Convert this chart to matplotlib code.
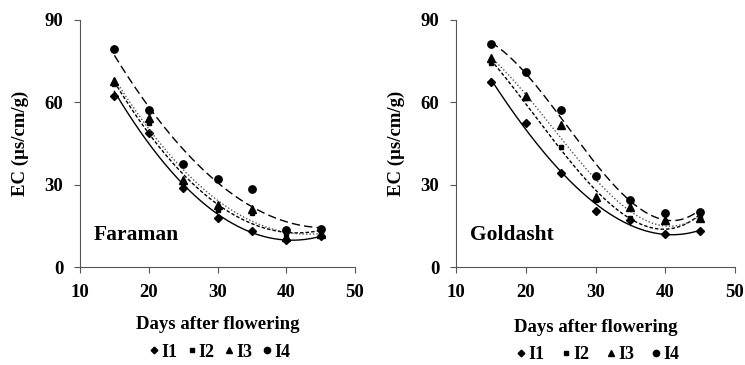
import numpy as np
import matplotlib
matplotlib.use("Agg")
import matplotlib.pyplot as plt
from matplotlib.lines import Line2D

plt.rcParams['font.family'] = ['Liberation Serif', 'DejaVu Serif']
plt.rcParams['font.weight'] = 'bold'

days = [15, 20, 25, 30, 35, 40, 45]
series = ["I1", "I2", "I3", "I4"]

faraman_I1 = [62.2, 49.0, 28.7, 17.7, 13.2, 10.0, 11.2]
faraman_I2 = [66.5, 52.4, 30.5, 20.7, 19.5, 12.2, 12.8]
faraman_I3 = [67.7, 54.3, 31.7, 22.6, 21.0, 11.0, 12.2]
faraman_I4 = [79.3, 57.3, 37.6, 32.0, 28.5, 13.4, 13.9]

goldasht_I1 = [67.5, 52.5, 34.2, 20.5, 17.1, 12.2, 13.0]
goldasht_I2 = [74.4, 61.5, 43.9, 24.4, 17.7, 16.5, 18.0]
goldasht_I3 = [76.0, 62.4, 51.8, 25.6, 21.7, 17.1, 17.7]
goldasht_I4 = [81.3, 71.0, 57.3, 33.3, 24.4, 19.5, 19.9]

markers = ['D', 's', '^', 'o']
msizes = [4.0, 3.2, 5.5, 5.3]
lstyles = ['-', (0, (2.5, 1.5)), (0, (1, 1.5)), (0, (6, 3))]
lcolors = ['#000000', '#000000', '#555555', '#000000']

fig = plt.figure(figsize=(7.45, 3.65), dpi=100)
ax1 = fig.add_axes([80/745, 98/365, 275/745, 247/365])
ax2 = fig.add_axes([456/745, 98/365, 279/745, 247/365])

def draw(ax, data, deg, name, legend_y, xlab_y, colsp):
    xs = np.linspace(15, 45, 200)
    for vals, m, ms, ls, lc in zip(data, markers, msizes, lstyles, lcolors):
        coef = np.polyfit(days, vals, deg)
        ax.plot(xs, np.polyval(coef, xs), linestyle=ls, color=lc, lw=1.0)
        ax.plot(days, vals, linestyle='none', marker=m, markersize=ms, color='black')
    ax.set_xlim(10, 50)
    ax.set_ylim(0, 90)
    ax.set_xticks([10, 20, 30, 40, 50])
    ax.set_yticks([0, 30, 60, 90])
    ax.spines['top'].set_visible(False)
    ax.spines['right'].set_visible(False)
    for s in ['left', 'bottom']:
        ax.spines[s].set_color('#555555')
    ax.tick_params(axis='y', direction='out', length=4, color='#555555', labelsize=13.5, pad=8)
    ax.tick_params(axis='x', direction='out', length=4, color='#555555', labelsize=13.5, pad=8)
    for t in ax.get_xticklabels() + ax.get_yticklabels():
        t.set_fontweight('bold')
    ax.set_ylabel('EC (µs/cm/g)', fontsize=13.5, fontweight='bold', labelpad=11)
    ax.set_xlabel('Days after flowering', fontsize=13.5, fontweight='bold')
    ax.xaxis.set_label_coords(0.5, xlab_y)
    ax.text(0.05, 0.11, name, transform=ax.transAxes, fontsize=15.5, fontweight='bold')
    handles = [Line2D([], [], linestyle='none', marker=m, markersize=ms*0.85, color='black')
               for m, ms in zip(markers, msizes)]
    ax.legend(handles, series, loc='center', bbox_to_anchor=(0.5, legend_y), ncol=4,
              frameon=False, handletextpad=-0.1, columnspacing=colsp, handlelength=1.0,
              borderpad=0, prop={'size': 13, 'weight': 'bold'})

draw(ax1, [faraman_I1, faraman_I2, faraman_I3, faraman_I4], 2, 'Faraman', -0.345, -0.2, 0.3)
draw(ax2, [goldasht_I1, goldasht_I2, goldasht_I3, goldasht_I4], 3, 'Goldasht', -0.355, -0.212, 0.7)

fig.savefig('out.png', dpi=100)
